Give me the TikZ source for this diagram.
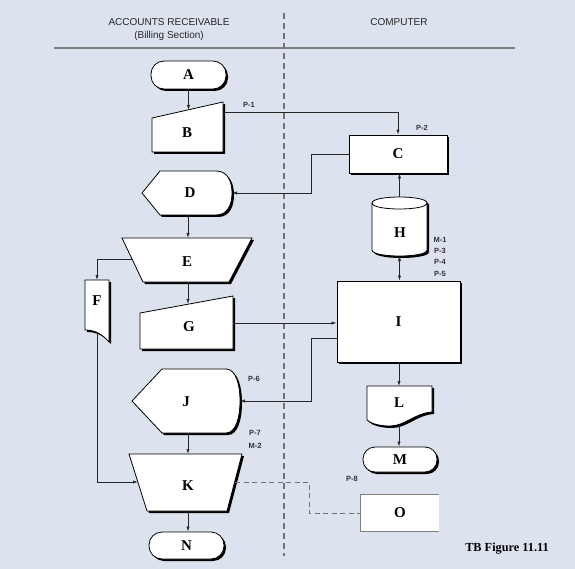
\documentclass[tikz,border=0pt]{standalone}
\usepackage{fontspec}
\setmainfont{Liberation Serif}
\setsansfont{Liberation Sans}
\usetikzlibrary{arrows.meta,shadows,calc}
\definecolor{bg}{RGB}{220,227,239}
\begin{document}
\begin{tikzpicture}[x=1pt,y=-1pt,
  shp/.style={fill=white,draw=black,line width=0.8pt},
  shad/.style={drop shadow={shadow xshift=2pt,shadow yshift=-2pt,fill=black,opacity=1}},
  lbl/.style={font=\fontsize{15}{15}\selectfont\bfseries,inner sep=0pt},
  tag/.style={font=\sffamily\bfseries\fontsize{7.5}{8}\selectfont,text=black!80,inner sep=0pt},
  hdr/.style={font=\sffamily\fontsize{10}{11}\selectfont,text=black!85,inner sep=0pt},
  conn/.style={draw=black!85,line width=0.7pt},
  arr/.style={conn,-{Latex[length=5pt,width=3.2pt]}},
  darr/.style={conn,{Latex[length=5pt,width=3.2pt]}-{Latex[length=5pt,width=3.2pt]}},
  term/.style={shp,shad,lbl,rounded corners=13pt},
  proc/.style={shp,shad,lbl},
]
\useasboundingbox (0,0) rectangle (575,569);
\fill[bg] (0,0) rectangle (575,569);

% header
\node[hdr] (hAR) at (169,22) {ACCOUNTS RECEIVABLE};
\node[hdr] (hBS) at (169,36) {(Billing Section)};
\node[hdr] (hCO) at (399,22) {COMPUTER};
\draw[black!50,line width=1.4pt] (54,48) -- (515,48);
\draw[black!55,line width=1.2pt,dash pattern=on 6pt off 4pt] (284,13) -- (284,556);

% shapes
\node[term,minimum width=75pt,minimum height=28pt] (A) at (188.5,75) {A};

\filldraw[shp,shad] (152,118) -- (223,102) -- (223,152) -- (152,152) -- cycle;
\node[lbl] (B) at (187,133) {B};

\node[proc,minimum width=98pt,minimum height=38pt] (C) at (398,154) {C};

\filldraw[shp,shad] (142,193) -- (160,171) -- (216,171)
  .. controls (228,171) and (232,182) .. (232,193)
  .. controls (232,204) and (228,215) .. (216,215) -- (160,215) -- cycle;
\node[lbl] (D) at (190,193) {D};

\filldraw[shp,shad] (122,238) -- (252,238) -- (229,282) -- (143,282) -- cycle;
\node[lbl] (E) at (187,262) {E};

\filldraw[shp,shad] (85,280) -- (109,280) -- (109,342)
  .. controls (102,334) and (95,330) .. (85,330) -- cycle;
\node[lbl] (F) at (97,301) {F};

\filldraw[shp,shad] (140,313) -- (233,296) -- (233,349) -- (140,349) -- cycle;
\node[lbl] (G) at (189,327) {G};

\filldraw[shp,shad] (372,203) -- (372,250) .. controls (372,258) and (427,258) .. (427,250)
  -- (427,203) .. controls (427,195) and (372,195) .. (372,203) -- cycle;
\draw[line width=0.8pt] (372,203) .. controls (372,211) and (427,211) .. (427,203);
\node[lbl] (H) at (400,233) {H};

\node[proc,minimum width=123pt,minimum height=81pt] (I) at (398.5,321.5) {I};

\filldraw[shp,shad] (132,401) -- (162,369) -- (226,369)
  .. controls (236,369) and (240,385) .. (240,401)
  .. controls (240,417) and (236,433) .. (226,433) -- (162,433) -- cycle;
\node[lbl] (J) at (186,402) {J};

\filldraw[shp,shad] (129,454) -- (242,454) -- (227,511) -- (147,511) -- cycle;
\node[lbl] (K) at (188,486) {K};

\filldraw[shp,shad] (367,386) -- (432,386) -- (432,412)
  .. controls (415,413) and (405,426) .. (390,426)
  .. controls (378,426) and (370,423) .. (367,420) -- cycle;
\node[lbl] (L) at (399,403) {L};

\node[term,minimum width=74pt,minimum height=25pt,rounded corners=12pt] (M) at (400,459.5) {M};
\node[term,minimum width=75pt,minimum height=27pt] (N) at (186.5,545.5) {N};

\node[lbl,fill=white,minimum width=78pt,minimum height=36pt] (O) at (400,513) {O};
\draw[black!50,line width=0.8pt] (O.north east) -- (O.north west) -- (O.south west) -- (O.south east);

% attachment points
\coordinate (Bt) at (188.5,110);
\coordinate (Bo) at (223,112);
\coordinate (Dr) at (232,193);
\coordinate (Db) at (188,215);
\coordinate (Et) at (188,238);
\coordinate (El) at (132,259);
\coordinate (Eb) at (188,282);
\coordinate (Ft) at (97,280);
\coordinate (Fb) at (97,334);
\coordinate (Gt) at (188,304);
\coordinate (Go) at (233,323);
\coordinate (Hn) at (399.5,197);
\coordinate (Hs) at (399.5,256);
\coordinate (Jr) at (240,401);
\coordinate (Jb) at (188,433);
\coordinate (Kt) at (188,454);
\coordinate (Kb) at (188,511);
\coordinate (Ki) at (138,482);
\coordinate (Ko) at (235,482);
\coordinate (Lt) at (399,386);
\coordinate (Lb) at (399,425);

% connectors
\draw[arr] (A.south) -- (A.south |- Bt);
\draw[arr] (Bo) -| (C.north);
\draw[arr] (C.west) -- ++(-37,0) |- (Dr);
\draw[arr] (Hn) -- (Hn |- C.south);
\draw[arr] (Db) -- (Et);
\draw[arr] (El) -| (Ft);
\draw[arr] (Eb) -- (Gt);
\draw[arr] (Go) -- (Go -| I.west);
\draw[darr] (Hs) -- (Hs |- I.north);
\draw[arr] ([yshift=-16.5pt]I.west) -- ++(-25,0) |- (Jr);
\draw[arr] (Lt |- I.south) -- (Lt);
\draw[arr] (Lb) -- (Lb |- M.north);
\draw[arr] (Jb) -- (Kt);
\draw[arr] (Fb) |- (Ki);
\draw[arr] (Kb) -- (Kb |- N.north);
\draw[conn,draw=black!55,line width=0.9pt,dash pattern=on 5pt off 3.5pt] (Ko) -- ++(74,0) |- (O.west);

% tags
\node[tag] (p1) at (249,105) {P-1};
\node[tag] (p2) at (422,128) {P-2};
\node[tag] (m1) at (440,240) {M-1};
\node[tag] (p3) at (440,251) {P-3};
\node[tag] (p4) at (440,262) {P-4};
\node[tag] (p5) at (440,274) {P-5};
\node[tag] (p6) at (254,379) {P-6};
\node[tag] (p7) at (255,433) {P-7};
\node[tag] (m2) at (255,446) {M-2};
\node[tag] (p8) at (352,479) {P-8};

\node[font=\bfseries\fontsize{12.3}{13}\selectfont,inner sep=0pt] (cap) at (507,549) {TB Figure 11.11};
\end{tikzpicture}
\end{document}
